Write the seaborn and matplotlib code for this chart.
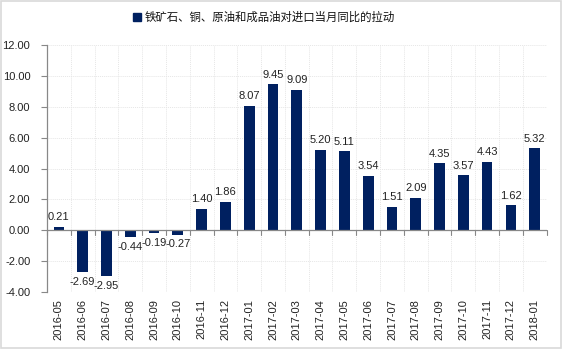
import matplotlib
matplotlib.use("Agg")
import matplotlib.pyplot as plt
import seaborn as sns
import pandas as pd
import numpy as np
from matplotlib.patches import Rectangle

months = ["2016-05", "2016-06", "2016-07", "2016-08", "2016-09", "2016-10", "2016-11",
          "2016-12", "2017-01", "2017-02", "2017-03", "2017-04", "2017-05", "2017-06",
          "2017-07", "2017-08", "2017-09", "2017-10", "2017-11", "2017-12", "2018-01"]
values = [0.21, -2.69, -2.95, -0.44, -0.19, -0.27, 1.40, 1.86, 8.07, 9.45, 9.09,
          5.20, 5.11, 3.54, 1.51, 2.09, 4.35, 3.57, 4.43, 1.62, 5.32]
series_name = "铁矿石、铜、原油和成品油对进口当月同比的拉动"
y_ticks = [-4, -2, 0, 2, 4, 6, 8, 10, 12]

sns.set_theme(style="white")
plt.rcParams['font.family'] = ['Noto Sans CJK SC', 'DejaVu Sans']
num_font = ['Liberation Sans Narrow', 'Liberation Sans', 'DejaVu Sans']

color = "#002060"
df = pd.DataFrame({"month": months, "value": values})

fig = plt.figure(figsize=(5.62, 3.49), dpi=100)
ax = fig.add_axes([0.0836, 0.163, 0.889, 0.708])
sns.barplot(data=df, x="month", y="value", color=color, width=0.45, ax=ax,
            saturation=1, label=series_name, linewidth=0)

ax.set_ylim(-4, 12)
ax.set_xlim(-0.5, len(months) - 0.5)
ax.set_yticks(y_ticks)
ax.set_yticklabels([f"{v:.2f}" for v in y_ticks], fontsize=8, family=num_font, color="#222222")
ax.set_xticks(range(len(months)))
ax.set_xticklabels(months, rotation=90, fontsize=8, family=num_font, color="#222222")
ax.set_xlabel("")
ax.set_ylabel("")
ax.tick_params(axis='x', length=0, pad=5)
ax.tick_params(axis='y', length=4, width=0.8, color="#888888", direction='out', left=True, pad=8)

# grid
for yv in y_ticks:
    ax.axhline(yv, color="#e6e6e6", lw=0.7, ls=(0, (1, 1)), zorder=0)
for i in range(len(months) + 1):
    ax.axvline(i - 0.5, color="#e6e6e6", lw=0.7, ls=(0, (1, 1)), zorder=0)

# zero axis line with ticks
ax.axhline(0, color="#888888", lw=0.9, zorder=3)
for i in range(len(months) + 1):
    ax.plot([i - 0.5, i - 0.5], [0, -0.3], color="#888888", lw=0.8, zorder=3, clip_on=False)

for s in ["top", "right", "bottom"]:
    ax.spines[s].set_visible(False)
ax.spines["left"].set_color("#888888")
ax.spines["left"].set_linewidth(0.9)

for i, v in enumerate(values):
    if v >= 0:
        ax.text(i, v + 0.3, f"{v:.2f}", ha="center", va="bottom", fontsize=8, family=num_font, color="#222222")
    else:
        ax.text(i, v - 0.3, f"{v:.2f}", ha="center", va="top", fontsize=8, family=num_font, color="#222222")

leg = fig.legend(handles=[Rectangle((0, 0), 1, 1, color=color)], labels=[series_name],
                 loc="center", bbox_to_anchor=(0.47, 0.951), frameon=False, fontsize=8.2,
                 handlelength=0.7, handleheight=0.7, handletextpad=0.3)
for t in leg.get_texts():
    t.set_color("#111111")
if ax.get_legend():
    ax.get_legend().remove()

fig.patches.append(Rectangle((0.002, 0.003), 0.996, 0.994, transform=fig.transFigure,
                             fill=False, edgecolor="#d9d9d9", lw=1.2))

fig.savefig("out.png", dpi=100)
